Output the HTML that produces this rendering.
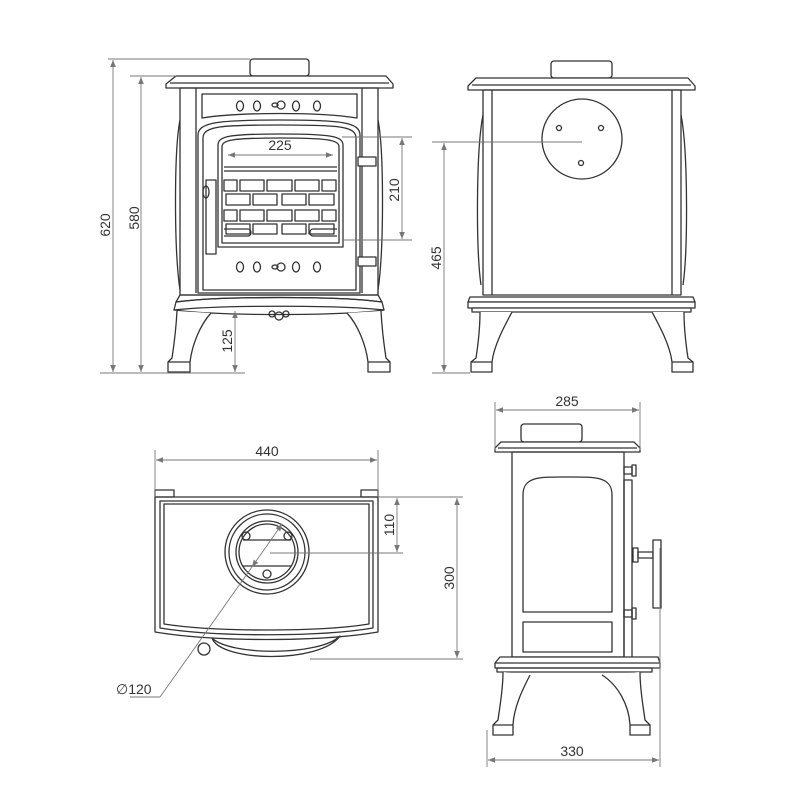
<!DOCTYPE html>
<html><head><meta charset="utf-8"><style>
html,body{margin:0;padding:0;background:#fff;}
svg{display:block;}
text{font-family:"Liberation Sans",sans-serif;font-size:14px;fill:#333;}
.s{fill:none;stroke:#333;stroke-width:1.3;stroke-linejoin:round;}
.w{fill:#fff;stroke:#333;stroke-width:1.3;stroke-linejoin:round;}
.d{fill:none;stroke:#777;stroke-width:0.9;}
.a{fill:#777;}
</style></head><body>
<svg width="800" height="800" viewBox="0 0 800 800" xmlns="http://www.w3.org/2000/svg">
<defs>
<marker id="ar" viewBox="0 0 10 10" refX="10" refY="5" markerWidth="9" markerHeight="7" orient="auto-start-reverse" markerUnits="userSpaceOnUse"><path d="M0,1 L10,5 L0,9 Z" class="a"/></marker>
</defs>

<!-- ============ FRONT VIEW ============ -->
<rect x="250" y="59" width="59" height="17" rx="3" class="w"/>
<path d="M176,76 L386,76 L393,84 L393,88 L166,88 L166,84 Z" class="w"/>
<line x1="170" y1="83" x2="389" y2="83" class="s"/>
<rect x="180" y="88" width="198" height="207" class="s"/>
<line x1="196" y1="88" x2="196" y2="293" class="s"/>
<line x1="362" y1="88" x2="362" y2="293" class="s"/>
<path d="M180,120 C174,150 174,250 180,290" class="s"/>
<path d="M378,120 C384,150 384,250 378,290" class="s"/>
<path d="M202,94 L357,94 L357,118 C320,112 240,112 202,118 Z" class="s"/>
<g class="s">
<ellipse cx="240" cy="106" rx="3.5" ry="5"/><ellipse cx="257" cy="106" rx="3.5" ry="5"/>
<ellipse cx="296" cy="106" rx="3.5" ry="5"/><ellipse cx="317" cy="106" rx="3.5" ry="5"/>
<ellipse cx="275" cy="105" rx="3" ry="2"/><circle cx="281" cy="105" r="4"/>
</g>
<path d="M198,293 L198,135 C198,122 220,120 280,120 C340,120 360,122 360,135 L360,293 Z" class="s"/>
<path d="M203,290 L203,138 C203,126 222,125 280,125 C338,125 356,126 356,138 L356,290 Z" class="s"/>
<path d="M218,247 L218,145 C218,136 230,134 280,134 C330,134 343,136 343,145 L343,247 Z" class="s"/>
<path d="M222,243 L222,147 C222,140 232,138 280,138 C328,138 339,140 339,147 L339,243 Z" class="s"/>
<g class="s">
<line x1="224" y1="167" x2="337" y2="167"/><line x1="224" y1="171" x2="337" y2="171"/>
<rect x="224" y="180" width="13" height="11"/><rect x="240" y="180" width="24" height="11"/><rect x="267" y="180" width="25" height="11"/><rect x="295" y="180" width="24" height="11"/><rect x="322" y="180" width="14" height="11"/>
<rect x="226" y="194" width="24" height="11"/><rect x="253" y="194" width="24" height="11"/><rect x="282" y="194" width="24" height="11"/><rect x="309" y="194" width="25" height="11"/>
<rect x="224" y="210" width="13" height="11"/><rect x="240" y="210" width="24" height="11"/><rect x="267" y="210" width="25" height="11"/><rect x="295" y="210" width="24" height="11"/><rect x="322" y="210" width="14" height="11"/>
<rect x="226" y="224" width="24" height="10"/><rect x="253" y="224" width="24" height="10"/><rect x="282" y="224" width="24" height="10"/><rect x="309" y="224" width="25" height="10"/>
<path d="M224,229 L248,229 C252,229 252,236 248,236 L224,236"/>
<path d="M337,229 L313,229 C309,229 309,236 313,236 L337,236"/>
</g>
<rect x="206" y="180" width="10" height="74" class="w"/>
<ellipse cx="206" cy="192" rx="3" ry="6" class="s"/>
<rect x="358" y="157" width="18" height="9" class="w"/>
<rect x="358" y="257" width="18" height="9" class="w"/>
<g class="s">
<ellipse cx="240" cy="267" rx="3.5" ry="5"/><ellipse cx="257" cy="267" rx="3.5" ry="5"/>
<ellipse cx="296" cy="267" rx="3.5" ry="5"/><ellipse cx="317" cy="267" rx="3.5" ry="5"/>
<ellipse cx="275" cy="267" rx="3" ry="2"/><circle cx="281" cy="267" r="4"/>
</g>
<path d="M180,295 L378,295 L382,302 C340,296 220,296 176,302 Z" class="s"/>
<path d="M176,302 C220,296 340,296 382,302 L384,310 C340,305 220,305 174,310 Z" class="s"/>
<path d="M174,310 C220,316 340,316 384,310" class="s"/>
<circle cx="279" cy="316" r="4" class="s"/><circle cx="272" cy="314" r="3" class="s"/><circle cx="286" cy="314" r="3" class="s"/>
<path d="M177,311 C176,330 174,345 172,358 L168,362 L168,372 L190,372 L190,362 C192,345 200,325 211,313" class="w"/>
<line x1="168" y1="362" x2="190" y2="362" class="s"/>
<path d="M381,311 C382,330 384,345 386,358 L390,362 L390,372 L368,372 L368,362 C366,345 358,325 347,313" class="w"/>
<line x1="368" y1="362" x2="390" y2="362" class="s"/>
<line x1="108" y1="59" x2="250" y2="59" class="d"/>
<line x1="100" y1="373" x2="245" y2="373" class="d"/>
<line x1="113" y1="60" x2="113" y2="372" class="d" marker-start="url(#ar)" marker-end="url(#ar)"/>
<text transform="translate(110,225) rotate(-90)" text-anchor="middle">620</text>
<line x1="130" y1="76" x2="176" y2="76" class="d"/>
<line x1="141" y1="77" x2="141" y2="372" class="d" marker-start="url(#ar)" marker-end="url(#ar)"/>
<text transform="translate(139,218) rotate(-90)" text-anchor="middle">580</text>
<line x1="235" y1="311" x2="235" y2="372" class="d" marker-start="url(#ar)" marker-end="url(#ar)"/>
<text transform="translate(232,341) rotate(-90)" text-anchor="middle">125</text>
<line x1="228" y1="155" x2="333" y2="155" class="d" marker-start="url(#ar)" marker-end="url(#ar)"/>
<text x="280" y="150" text-anchor="middle">225</text>
<line x1="342" y1="137" x2="412" y2="137" class="d"/>
<line x1="342" y1="240" x2="412" y2="240" class="d"/>
<line x1="402" y1="138" x2="402" y2="239" class="d" marker-start="url(#ar)" marker-end="url(#ar)"/>
<text transform="translate(399,190) rotate(-90)" text-anchor="middle">210</text>

<!-- ============ SIDE (BACK) VIEW ============ -->
<rect x="551" y="61" width="61" height="17" rx="3" class="w"/>
<path d="M476,78 L688,78 L695,86 L695,90 L468,90 L468,86 Z" class="w"/>
<line x1="472" y1="85" x2="691" y2="85" class="s"/>
<rect x="483" y="90" width="198" height="205" class="s"/>
<line x1="492" y1="90" x2="492" y2="295" class="s"/>
<line x1="672" y1="90" x2="672" y2="295" class="s"/>
<path d="M483,115 C476,150 476,250 481,285" class="s"/>
<path d="M681,115 C688,150 688,250 683,285" class="s"/>
<circle cx="582" cy="139" r="40" class="s"/>
<circle cx="559" cy="128" r="2.5" class="s"/><circle cx="601" cy="128" r="2.5" class="s"/><circle cx="581" cy="163" r="2.5" class="s"/>
<path d="M470,297 L693,297 L695,302 L468,302 Z" class="w"/>
<rect x="468" y="302" width="227" height="6" class="w"/>
<rect x="472" y="308" width="219" height="4" class="w"/>
<path d="M480,312 C480,330 478,345 476,358 L471,362 L471,372 L492,372 L492,362 C494,345 505,325 512,312" class="w"/>
<line x1="471" y1="362" x2="492" y2="362" class="s"/>
<path d="M684,312 C684,330 686,345 688,358 L693,362 L693,372 L672,372 L672,362 C670,345 659,325 652,312" class="w"/>
<line x1="672" y1="362" x2="693" y2="362" class="s"/>
<line x1="432" y1="142" x2="582" y2="142" class="d"/>
<line x1="432" y1="373" x2="470" y2="373" class="d"/>
<line x1="444" y1="143" x2="444" y2="372" class="d" marker-start="url(#ar)" marker-end="url(#ar)"/>
<text transform="translate(441,258) rotate(-90)" text-anchor="middle">465</text>

<!-- ============ TOP VIEW ============ -->
<rect x="155" y="490" width="19" height="7" class="s"/>
<rect x="361" y="490" width="17" height="7" class="s"/>
<path d="M155,497 L378,497 L378,632 C320,642 215,642 155,632 Z" class="s"/>
<path d="M160,501 L373,501 L373,628 C320,637 215,637 160,628 Z" class="s"/>
<path d="M164,504 L369,504 L369,624 C320,632 215,632 164,624 Z" class="s"/>
<path d="M212,638 C220,662 320,664 340,636 C320,656 230,656 212,638 Z" class="s"/>
<circle cx="204" cy="649" r="6" class="w"/>
<circle cx="267" cy="552" r="42" class="s"/>
<circle cx="267" cy="552" r="38" class="s"/>
<circle cx="267" cy="552" r="31" class="s"/>
<circle cx="267" cy="552" r="28" class="s"/>
<line x1="243" y1="540" x2="291" y2="540" class="s"/>
<line x1="243" y1="566" x2="291" y2="566" class="s"/>
<circle cx="246" cy="536" r="4" class="s"/><circle cx="288" cy="536" r="4" class="s"/><circle cx="267" cy="574" r="4" class="s"/>
<line x1="155" y1="450" x2="155" y2="497" class="d"/>
<line x1="378" y1="450" x2="378" y2="497" class="d"/>
<line x1="156" y1="460" x2="377" y2="460" class="d" marker-start="url(#ar)" marker-end="url(#ar)"/>
<text x="267" y="456" text-anchor="middle">440</text>
<line x1="378" y1="497" x2="463" y2="497" class="d"/>
<line x1="270" y1="553" x2="403" y2="553" class="d"/>
<line x1="310" y1="659" x2="463" y2="659" class="d"/>
<line x1="397" y1="498" x2="397" y2="552" class="d" marker-start="url(#ar)" marker-end="url(#ar)"/>
<text transform="translate(394,525) rotate(-90)" text-anchor="middle">110</text>
<line x1="457" y1="498" x2="457" y2="658" class="d" marker-start="url(#ar)" marker-end="url(#ar)"/>
<text transform="translate(454,578) rotate(-90)" text-anchor="middle">300</text>
<line x1="130" y1="697" x2="160" y2="697" class="d"/>
<line x1="160" y1="697" x2="252" y2="567" class="d"/>
<line x1="252" y1="567" x2="282" y2="524" class="d" marker-start="url(#ar)" marker-end="url(#ar)"/>
<text x="116" y="694">∅120</text>

<!-- ============ FRONT-SIDE VIEW ============ -->
<rect x="521" y="424" width="61" height="18" rx="3" class="w"/>
<path d="M501,442 L634,442 L640,448 L640,452 L495,452 L495,448 Z" class="w"/>
<line x1="498" y1="448" x2="637" y2="448" class="s"/>
<rect x="512" y="452" width="112" height="205" class="s"/>
<path d="M523,612 L523,495 C523,476 540,477 567,477 C595,477 612,476 612,495 L612,612 Z" class="s"/>
<rect x="523" y="622" width="89" height="30" class="s"/>
<rect x="624" y="480" width="8" height="178" class="s"/>
<rect x="624" y="467" width="8" height="7" class="s"/><rect x="632" y="465" width="4" height="11" class="s"/>
<rect x="624" y="610" width="8" height="7" class="s"/><rect x="632" y="608" width="4" height="11" class="s"/>
<rect x="633" y="548" width="5" height="14" class="s"/><rect x="638" y="552" width="15" height="6" class="s"/>
<rect x="653" y="540" width="8" height="68" class="w"/>
<path d="M500,657 L658,657 L660,663 L660,668 L495,668 L495,663 Z" class="w"/>
<line x1="495" y1="663" x2="660" y2="663" class="s"/>
<rect x="497" y="668" width="155" height="4" class="s"/>
<path d="M503,672 C503,690 500,705 498,720 L493,725 L493,735 L513,735 L513,725 C514,705 525,685 530,675" class="w"/>
<line x1="493" y1="725" x2="513" y2="725" class="s"/>
<path d="M640,672 C640,690 643,705 645,720 L650,725 L650,735 L630,735 L630,725 C629,705 618,685 602,675" class="w"/>
<line x1="630" y1="725" x2="650" y2="725" class="s"/>
<line x1="495" y1="402" x2="495" y2="450" class="d"/>
<line x1="640" y1="402" x2="640" y2="450" class="d"/>
<line x1="496" y1="410" x2="639" y2="410" class="d" marker-start="url(#ar)" marker-end="url(#ar)"/>
<text x="567" y="406" text-anchor="middle">285</text>
<line x1="487" y1="730" x2="487" y2="767" class="d"/>
<line x1="660" y1="548" x2="660" y2="767" class="d"/>
<line x1="488" y1="760" x2="659" y2="760" class="d" marker-start="url(#ar)" marker-end="url(#ar)"/>
<text x="572" y="756" text-anchor="middle">330</text>
</svg>
</body></html>
